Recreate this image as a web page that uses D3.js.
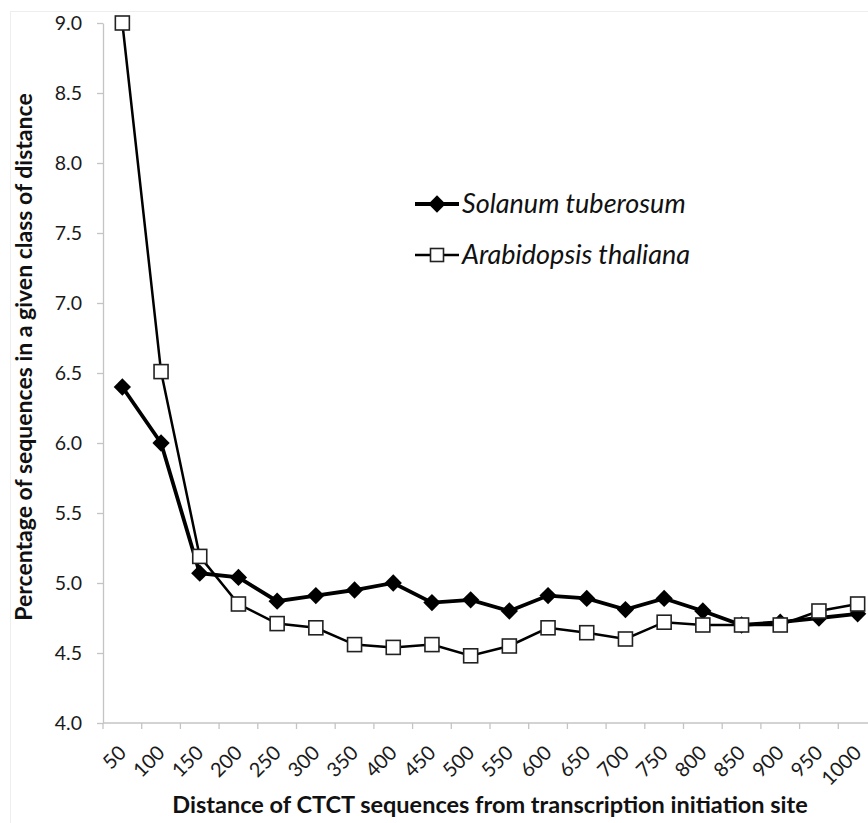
<!DOCTYPE html>
<html>
<head>
<meta charset="utf-8">
<script src="https://cdn.jsdelivr.net/npm/d3@7"></script>
<style>
  body { margin: 0; background: #fff; }
  svg { display: block; font-family: Lato, "Open Sans", sans-serif; }
</style>
</head>
<body>
<script>
// distance classes (bp from transcription initiation site)
var distances = ["50","100","150","200","250","300","350","400","450","500",
                 "550","600","650","700","750","800","850","900","950","1000"];

// percentage of sequences per class
var solanum = [6.40, 6.00, 5.07, 5.04, 4.87, 4.91, 4.95, 5.00, 4.86, 4.88,
               4.80, 4.91, 4.89, 4.81, 4.89, 4.80, 4.70, 4.72, 4.75, 4.78];
var arabidopsis = [9.00, 6.51, 5.19, 4.85, 4.71, 4.68, 4.56, 4.54, 4.56, 4.48,
                   4.55, 4.68, 4.645, 4.60, 4.72, 4.70, 4.70, 4.70, 4.80, 4.85];

var yTicks = [4.0, 4.5, 5.0, 5.5, 6.0, 6.5, 7.0, 7.5, 8.0, 8.5, 9.0];

var width = 868, height = 823;
var plotLeft = 103, plotRight = 877, plotTop = 23, plotBottom = 723;
var axisGray = "#c4c4c4";

var svg = d3.select("body").append("svg")
    .attr("width", width)
    .attr("height", height);

// faint chart border
svg.append("rect")
    .attr("x", 10.5).attr("y", 11.5)
    .attr("width", 900).attr("height", 900)
    .attr("fill", "none")
    .attr("stroke", "#eeeeee");

var x = d3.scaleBand().domain(distances).range([plotLeft, plotRight]);
var y = d3.scaleLinear().domain([4, 9]).range([plotBottom, plotTop]);

// Y axis
var yAxis = svg.append("g")
    .attr("transform", "translate(" + plotLeft + ",0)")
    .call(d3.axisLeft(y).tickValues(yTicks).tickFormat(d3.format(".1f")).tickSize(6).tickSizeOuter(0));
yAxis.selectAll("line, path").attr("stroke", axisGray).attr("stroke-width", 1.3);
yAxis.selectAll("text")
    .attr("font-size", 19.5)
    .attr("font-family", "Lato, sans-serif")
    .attr("fill", "#1a1a1a")
    .attr("x", -21);

// X axis (ticks on band boundaries)
var xg = svg.append("g")
    .attr("transform", "translate(0," + plotBottom + ")");
xg.append("line")
    .attr("x1", plotLeft).attr("x2", plotRight)
    .attr("stroke", axisGray).attr("stroke-width", 1.3);
xg.selectAll(".tk").data(distances.concat(["end"]))
  .enter().append("line")
    .attr("x1", function(d, i) { return plotLeft + i * x.bandwidth(); })
    .attr("x2", function(d, i) { return plotLeft + i * x.bandwidth(); })
    .attr("y1", 0).attr("y2", 6)
    .attr("stroke", axisGray).attr("stroke-width", 1.3);
xg.selectAll(".lbl").data(distances)
  .enter().append("text")
    .attr("transform", function(d) {
      return "translate(" + (x(d) + x.bandwidth() / 2 + 5) + ",31) rotate(-45)";
    })
    .attr("text-anchor", "end")
    .attr("font-size", 20)
    .attr("fill", "#1a1a1a")
    .text(function(d) { return d; });

// axis titles
svg.append("text")
    .attr("x", 490).attr("y", 813)
    .attr("text-anchor", "middle")
    .attr("font-size", 23.5)
    .attr("font-weight", "bold")
    .attr("fill", "#111")
    .text("Distance of CTCT sequences from transcription initiation site");

svg.append("text")
    .attr("transform", "translate(32,357) rotate(-90)")
    .attr("text-anchor", "middle")
    .attr("font-size", 23)
    .attr("font-weight", "bold")
    .attr("fill", "#111")
    .text("Percentage of sequences in a given class of distance");

var cx = function(d, i) { return x(distances[i]) + x.bandwidth() / 2; };

var line = d3.line()
    .x(function(d, i) { return cx(d, i); })
    .y(function(d) { return y(d); });

// Arabidopsis line
svg.append("path")
    .datum(arabidopsis)
    .attr("d", line)
    .attr("fill", "none")
    .attr("stroke", "#000")
    .attr("stroke-width", 2.5);

// Solanum line
svg.append("path")
    .datum(solanum)
    .attr("d", line)
    .attr("fill", "none")
    .attr("stroke", "#000")
    .attr("stroke-width", 3.8);

var diamond = d3.symbol().type(d3.symbolDiamond2).size(190);

svg.selectAll(".dia").data(solanum)
  .enter().append("path")
    .attr("d", diamond)
    .attr("transform", function(d, i) { return "translate(" + cx(d, i) + "," + y(d) + ")"; })
    .attr("fill", "#000");

svg.selectAll(".sq").data(arabidopsis)
  .enter().append("rect")
    .attr("x", function(d, i) { return cx(d, i) - 7; })
    .attr("y", function(d) { return y(d) - 7; })
    .attr("width", 14).attr("height", 14)
    .attr("fill", "#fff")
    .attr("stroke", "#222")
    .attr("stroke-width", 1.6);

// legend
var legend = svg.append("g");
legend.append("line")
    .attr("x1", 415).attr("x2", 459).attr("y1", 204).attr("y2", 204)
    .attr("stroke", "#000").attr("stroke-width", 3.8);
legend.append("path")
    .attr("d", diamond)
    .attr("transform", "translate(437,204)")
    .attr("fill", "#000");
legend.append("text")
    .attr("x", 462).attr("y", 213)
    .attr("font-size", 27).attr("font-style", "italic")
    .attr("fill", "#111")
    .text("Solanum tuberosum");

legend.append("line")
    .attr("x1", 415).attr("x2", 459).attr("y1", 255).attr("y2", 255)
    .attr("stroke", "#000").attr("stroke-width", 2.5);
legend.append("rect")
    .attr("x", 430.5).attr("y", 248.5).attr("width", 13).attr("height", 13)
    .attr("fill", "#fff").attr("stroke", "#222").attr("stroke-width", 1.6);
legend.append("text")
    .attr("x", 462).attr("y", 264)
    .attr("font-size", 27).attr("font-style", "italic")
    .attr("fill", "#111")
    .text("Arabidopsis thaliana");
</script>
</body>
</html>
